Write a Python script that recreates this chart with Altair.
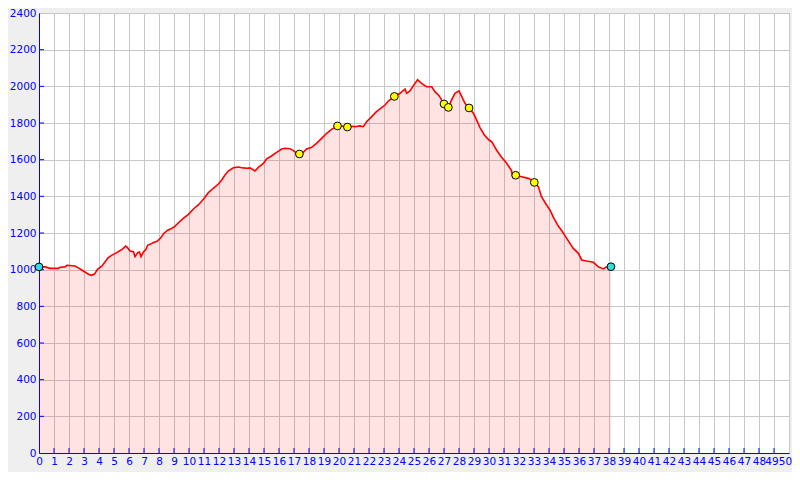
import altair as alt
import pandas as pd

km = [0, 0.4, 0.73, 1.3, 1.4, 1.73, 1.87, 2.4, 2.6, 2.85, 3.07, 3.3, 3.5, 3.7, 3.9, 4.2, 4.4, 4.6, 4.84,
      5.18, 5.47, 5.6, 5.78, 5.9, 6.07, 6.3, 6.4, 6.58, 6.7, 6.8, 6.96, 7.13, 7.24, 7.4, 7.6, 7.9, 8.13,
      8.3, 8.58, 8.84, 9.07, 9.3, 9.6, 9.96, 10.35, 10.62, 10.96, 11.29, 11.62, 11.96, 12.18, 12.4, 12.62,
      12.96, 13.29, 13.62, 13.84, 14.07, 14.4, 14.62, 14.96, 15.18, 15.5, 15.84, 16.18, 16.4, 16.73, 16.96,
      17.1, 17.36, 17.62, 17.84, 18.18, 18.5, 18.84, 19.18, 19.5, 19.9, 20.18, 20.56, 20.84, 21.07, 21.4,
      21.62, 21.84, 22.18, 22.5, 22.84, 23.07, 23.29, 23.69, 24.07, 24.4, 24.51, 24.73, 24.96, 25.24, 25.5,
      25.84, 26.18, 26.4, 26.67, 27.0, 27.29, 27.5, 27.73, 28.0, 28.13, 28.4, 28.67, 28.96, 29.18, 29.4,
      29.69, 30.0, 30.18, 30.5, 30.84, 31.18, 31.5, 31.58, 31.78, 32.18, 32.62, 32.84, 33.02, 33.29, 33.5,
      33.84, 34.07, 34.33, 34.62, 34.9, 35.18, 35.62, 35.96, 36.18, 36.5, 36.96, 37.29, 37.62, 37.84, 38.13]
elev = [1015, 1015, 1007, 1007, 1013, 1015, 1024, 1020, 1011, 998, 987, 975, 969, 976, 1002, 1020, 1042,
        1065, 1078, 1093, 1107, 1115, 1129, 1120, 1102, 1098, 1071, 1093, 1096, 1071, 1096, 1111, 1133,
        1138, 1147, 1156, 1175, 1196, 1215, 1224, 1238, 1256, 1278, 1302, 1335, 1353, 1384, 1420, 1444,
        1467, 1489, 1516, 1538, 1556, 1560, 1555, 1553, 1555, 1538, 1558, 1580, 1605, 1620, 1640, 1658,
        1662, 1660, 1649, 1640, 1631, 1640, 1658, 1667, 1689, 1716, 1744, 1765, 1784, 1784, 1778, 1782,
        1780, 1784, 1780, 1807, 1835, 1862, 1884, 1898, 1920, 1945, 1962, 1985, 1962, 1975, 2004, 2036,
        2016, 1998, 1998, 1971, 1949, 1904, 1885, 1925, 1962, 1975, 1953, 1907, 1882, 1853, 1816, 1775,
        1735, 1707, 1698, 1653, 1613, 1580, 1540, 1504, 1515, 1507, 1498, 1489, 1476, 1453, 1398, 1353,
        1325, 1280, 1238, 1207, 1171, 1116, 1089, 1053, 1047, 1040, 1016, 1004, 1016, 1016]

wp_km = [17.36, 19.9, 20.56, 23.69, 27.0, 27.29, 28.67, 31.78, 33.02]
wp_elev = [1631, 1784, 1778, 1945, 1904, 1885, 1882, 1515, 1476]
end_km = [0, 38.13]
end_elev = [1015, 1016]

x_ticks = list(range(0, 51))
y_ticks = list(range(0, 2401, 200))

prof = pd.DataFrame({"km": km, "elev": elev})
wp = pd.DataFrame({"km": wp_km, "elev": wp_elev})
ends = pd.DataFrame({"km": end_km, "elev": end_elev})
xt = pd.DataFrame({"km": x_ticks[1:-1]})
yt = pd.DataFrame({"elev": y_ticks[1:-1]})

BLUE = "#0000ff"
xs = alt.Scale(domain=[0, 50], nice=False, zero=False)
ys = alt.Scale(domain=[0, 2400], nice=False)

xaxis = alt.Axis(values=x_ticks, title=None, grid=True, gridColor="#c8c8c8", gridOpacity=1,
                 labelOverlap=False, labelFlush=False, tickSize=0, labelPadding=3, format="d",
                 labelColor=BLUE, domainColor=BLUE, labelFont="DejaVu Sans", labelFontSize=10.5,
                 labelBound=False,
                 labelOffset=alt.expr("datum.value == 50 ? -4 : (datum.value == 49 ? -2.5 : 0)"))
yaxis = alt.Axis(values=y_ticks, title=None, grid=True, gridColor="#c8c8c8", gridOpacity=1,
                 labelOverlap=False, labelFlush=False, tickSize=0, labelPadding=3, format="d",
                 labelColor=BLUE, domainColor=BLUE, labelFont="DejaVu Sans", labelFontSize=10.5,
                 labelBaseline="middle")

X = alt.X("km:Q", scale=xs, axis=xaxis)
Y = alt.Y("elev:Q", scale=ys, axis=yaxis)

area = alt.Chart(prof).mark_area(color="#ff0000", opacity=0.11, interpolate="linear").encode(x=X, y=Y)
line = alt.Chart(prof).mark_line(color="#ff0000", strokeWidth=1.6).encode(x=X, y=Y)
pts = alt.Chart(wp).mark_point(filled=True, fill="#ffff00", stroke="#000000", strokeWidth=1,
                                size=60, opacity=1).encode(x=X, y=Y)
endpts = alt.Chart(ends).mark_point(filled=True, fill="#33dddd", stroke="#000000", strokeWidth=1,
                                    size=60, opacity=1).encode(x=X, y=Y)
xtick = alt.Chart(xt).mark_rule(color=BLUE, strokeWidth=1).encode(
    x=X, y=alt.value(440), y2=alt.value(435),
)
ytick = alt.Chart(yt).mark_rule(color=BLUE, strokeWidth=1).encode(
    y=Y, x=alt.value(0), x2=alt.value(5),
)

chart = alt.layer(area, line, xtick, ytick, pts, endpts).properties(
    width=750, height=440,
    autosize=alt.AutoSizeParams(type="none"),
    padding={"left": 31, "top": 5, "right": 3, "bottom": 19},
    background="#efefef",
).configure_view(stroke=BLUE, strokeWidth=1, fill="#ffffff")

chart.save("out.html", embed_options={"renderer": "svg", "actions": False})
